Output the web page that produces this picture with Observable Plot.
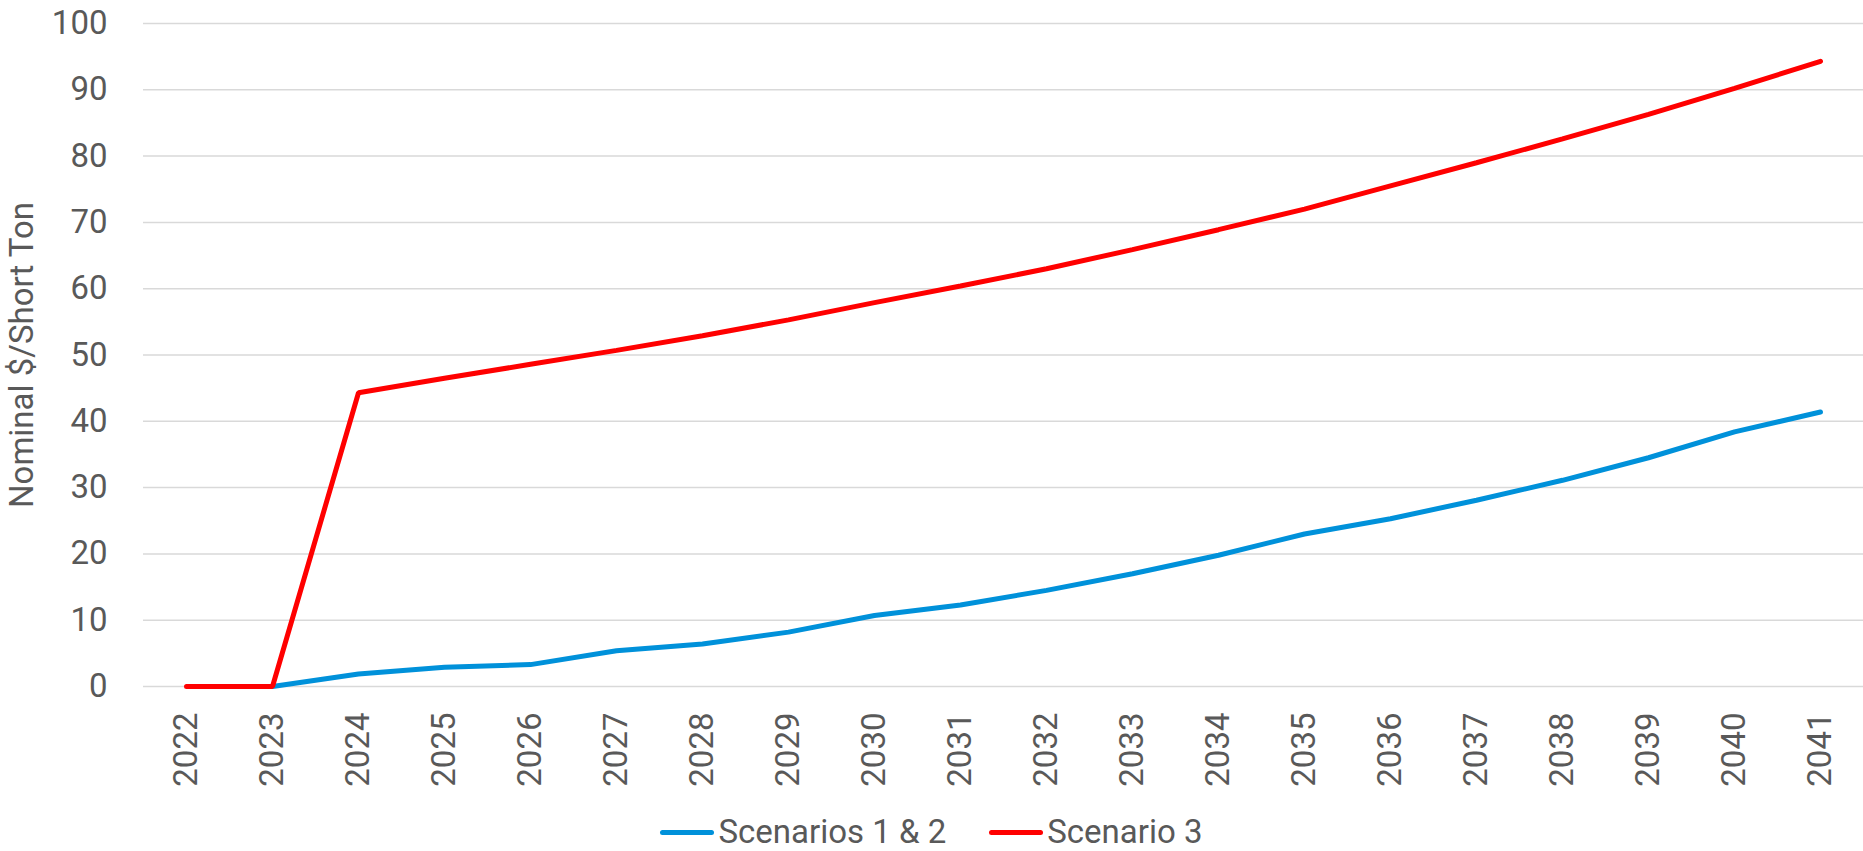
<!DOCTYPE html>
<html>
<head>
<meta charset="utf-8">
<script src="https://cdn.jsdelivr.net/npm/d3@7"></script>
<script src="https://cdn.jsdelivr.net/npm/@observablehq/plot@0.6"></script>
<style>
  html, body { margin: 0; padding: 0; background: #fff; }
  body { width: 1863px; font-family: Roboto, "Noto Sans", sans-serif; color: #595959; }
  #legend {
    display: flex; justify-content: center; align-items: center;
    height: 40px; padding-top: 12px; font-size: 33px; line-height: 40px;
  }
  .item { display: flex; align-items: center; }
  .item + .item { margin-left: 43px; }
  .swatch { width: 54px; height: 5px; border-radius: 3px; margin-right: 4px; }
</style>
</head>
<body>
<div id="chart"></div>
<div id="legend"></div>
<script>
// Years on the category axis
const years = [2022, 2023, 2024, 2025, 2026, 2027, 2028, 2029, 2030, 2031,
               2032, 2033, 2034, 2035, 2036, 2037, 2038, 2039, 2040, 2041];

// Nominal $/short ton by scenario (null = no value for that year)
const scenarios12 = [null, 0, 1.9, 2.9, 3.3, 5.4, 6.4, 8.2, 10.7, 12.3,
                     14.5, 17.0, 19.8, 23.0, 25.3, 28.1, 31.1, 34.5, 38.4, 41.4];
const scenario3 = [0, 0, 44.3, 46.5, 48.6, 50.7, 52.9, 55.3, 57.9, 60.4,
                   63.0, 65.9, 68.9, 72.0, 75.5, 79.0, 82.6, 86.3, 90.2, 94.3];

const seriesNames = ["Scenarios 1 & 2", "Scenario 3"];
const seriesColors = ["#0091da", "#ff0000"];
const yTicks = [0, 10, 20, 30, 40, 50, 60, 70, 80, 90, 100];
const yTitle = "Nominal $/Short Ton";

// Long-format rows for the line mark
const seriesValues = [scenarios12, scenario3];
const rows = seriesValues.flatMap((vals, s) =>
  years.map((year, i) => ({year, value: vals[i], series: seriesNames[s]}))
       .filter(d => d.value != null)
);

const chart = Plot.plot({
  width: 1863,
  height: 800,
  marginTop: 23,
  marginBottom: 114,
  marginLeft: 143,
  marginRight: 0,
  style: {fontFamily: "Roboto, 'Noto Sans', sans-serif", color: "#595959", background: "#fff"},
  x: {type: "point", domain: years, label: null},
  y: {domain: [0, 100], label: null},
  color: {domain: seriesNames, range: seriesColors},
  marks: [
    Plot.gridY(yTicks, {stroke: "#d9d9d9", strokeOpacity: 1, strokeWidth: 1.5}),
    Plot.axisY(yTicks, {tickSize: 0, tickPadding: 36, fontSize: 33, fill: "#595959", label: null}),
    Plot.axisX({
      tickSize: 0, tickPadding: 26, tickRotate: -90, tickFormat: d => String(d),
      fontSize: 33, fill: "#595959", label: null
    }),
    Plot.line(rows, {
      x: "year", y: "value", z: "series", stroke: "series",
      strokeWidth: 5, strokeLinecap: "round", strokeLinejoin: "miter"
    }),
    // Vertical axis title, centred on the plot frame
    Plot.text([yTitle], {
      frameAnchor: "left", textAnchor: "middle", lineAnchor: "middle",
      rotate: -90, dx: -121, fontSize: 33, fill: "#595959"
    })
  ]
});
document.getElementById("chart").appendChild(chart);

// Legend below the chart
const legend = d3.select("#legend");
seriesNames.forEach((name, i) => {
  const item = legend.append("div").attr("class", "item");
  item.append("div").attr("class", "swatch").style("background", seriesColors[i]);
  item.append("span").text(name);
});
</script>
</body>
</html>
